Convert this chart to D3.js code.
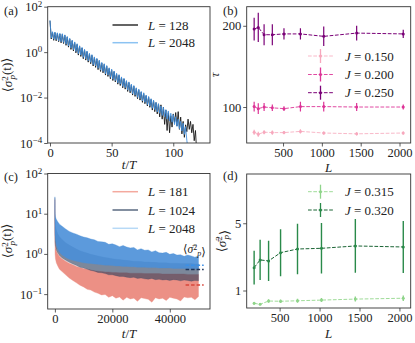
<!DOCTYPE html>
<html><head><meta charset="utf-8">
<script src="https://cdn.jsdelivr.net/npm/d3@7"></script>
<style>
body{margin:0;background:#fff}
text{font-family:"Liberation Serif","DejaVu Serif",serif;fill:#222}
</style></head>
<body><svg id="fig" width="415" height="343"></svg>
<script>
// ---------- DATA ----------
// panel (a): log10 <sigma_p^2(t)> at t/T = 0,1,2,...
const aLog2048 = [1.40, 0.62, 0.90, 0.57, 0.88, 0.55, 0.85, 0.50, 0.83, 0.46, 0.81,
 0.43, 0.76, 0.35, 0.69, 0.27, 0.61, 0.18, 0.53, 0.11, 0.45,
 0.03, 0.37, -0.07, 0.28, -0.13, 0.21, -0.23, 0.12, -0.29, 0.05,
 -0.38, -0.05, -0.45, -0.11, -0.55, -0.21, -0.61, -0.27, -0.71, -0.35,
 -0.79, -0.45, -0.85, -0.51, -0.95, -0.59, -1.01, -0.69, -1.11, -0.75,
 -1.19, -0.83, -1.25, -0.93, -1.35, -0.99, -1.41, -1.09, -1.51, -1.15,
 -1.57, -1.25, -1.67, -1.31, -1.73, -1.41, -1.83, -1.47, -1.89, -1.57,
 -1.99, -1.63, -2.05, -1.73, -2.15, -1.79, -2.21, -1.89, -2.31, -1.95,
 -2.37, -2.05, -2.47, -2.11, -2.53, -2.21, -2.63, -2.27, -2.69, -2.37,
 -2.79, -2.43, -2.85, -2.53, -2.95, -2.59, -3.03, -2.69, -3.09, -2.75,
 -3.19, -2.85, -3.27, -2.95, -3.37, -3.05, -3.47, -3.13, -3.62, -3.28,
 -3.88, -4.3];
const aLog128 = [1.38, 0.58, 0.88, 0.52, 0.86, 0.50, 0.83, 0.46, 0.80, 0.41, 0.78,
 0.38, 0.74, 0.30, 0.66, 0.22, 0.58, 0.12, 0.50, 0.05, 0.42,
 -0.03, 0.34, -0.13, 0.26, -0.19, 0.18, -0.29, 0.10, -0.35, 0.02,
 -0.44, -0.08, -0.51, -0.14, -0.61, -0.24, -0.67, -0.30, -0.77, -0.38,
 -0.85, -0.48, -0.91, -0.54, -1.01, -0.62, -1.07, -0.72, -1.17, -0.78,
 -1.25, -0.86, -1.31, -0.96, -1.41, -1.02, -1.47, -1.12, -1.57, -1.18,
 -1.63, -1.28, -1.73, -1.34, -1.79, -1.44, -1.89, -1.50, -1.95, -1.60,
 -2.05, -1.66, -2.11, -1.76, -2.21, -1.82, -2.27, -1.92, -2.37, -1.98,
 -2.43, -2.08, -2.55, -2.14, -2.62, -2.22, -2.72, -2.28, -2.85, -2.32,
 -2.95, -2.42, -3.18, -2.55, -3.45, -2.66, -3.55, -2.80, -3.30, -2.72,
 -3.10, -2.66, -3.25, -2.62, -3.40, -2.86, -3.60, -3.05, -3.75, -3.20,
 -3.50, -2.95, -3.40, -3.05, -3.55, -3.18, -3.90, -3.45, -4.4];

// panel (b)
const bL = [128, 181, 256, 362, 512, 724, 1024, 1448, 2048];
const tau150 = [69, 66.5, 69, 68.5, 68.5, 70, 68, 67, 68];
const err150 = [3, 3, 2.5, 2.5, 2, 2.5, 2, 2, 2];
const tau200 = [100.5, 98, 100, 99, 98, 100.5, 100.5, 100, 100];
const err200 = [6, 6.5, 5, 4, 3, 6, 6, 5, 3];
const tau250 = [196, 198, 189, 189, 190, 190, 187, 191, 190];
const err250 = [14, 18, 13, 13, 7, 7, 12, 9, 5];

// panel (c): envelopes (log10) of the fluctuating curves
const cTime = [0, 60, 200, 500, 1000, 1600, 2500, 3750, 5000, 6250, 7500, 8750, 10000, 11250, 12500,
 13750, 15000, 16250, 17500, 18750, 20000, 21250, 22500, 23750, 25000, 26250, 27500, 28750, 30000,
 31250, 32500, 33750, 35000, 36250, 37500, 38750, 40000, 41250, 42500, 43750, 45000, 46250, 47500, 48750, 50000];
const c2048Hi = [1.42, 1.0, 0.92, 0.86, 0.80, 0.74, 0.69, 0.62, 0.56, 0.52, 0.49, 0.45, 0.42, 0.40, 0.37,
 0.35, 0.31, 0.30, 0.29, 0.24, 0.25, 0.22, 0.18, 0.21, 0.17, 0.15, 0.16, 0.10, 0.13,
 0.09, 0.10, 0.05, 0.08, 0.03, 0.02, 0.04, -0.01, 0.01, -0.03, -0.02, -0.06, -0.03, -0.05, -0.08, -0.05];
const c2048Lo = [0.9, 0.50, 0.35, 0.22, 0.12, 0.04, -0.03, -0.09, -0.13, -0.16, -0.18, -0.20, -0.22, -0.23, -0.24,
 -0.25, -0.26, -0.27, -0.28, -0.28, -0.29, -0.30, -0.30, -0.31, -0.31, -0.32, -0.32, -0.33, -0.33,
 -0.33, -0.34, -0.34, -0.34, -0.35, -0.35, -0.35, -0.35, -0.36, -0.36, -0.36, -0.36, -0.37, -0.37, -0.37, -0.37];
const c1024Hi = [1.40, 0.85, 0.72, 0.60, 0.50, 0.43, 0.36, 0.28, 0.22, 0.17, 0.12, 0.08, 0.05, 0.02, -0.01,
 -0.03, -0.05, -0.07, -0.09, -0.10, -0.12, -0.13, -0.14, -0.15, -0.16, -0.17, -0.18, -0.18, -0.19,
 -0.20, -0.20, -0.21, -0.21, -0.22, -0.22, -0.22, -0.23, -0.23, -0.23, -0.24, -0.24, -0.24, -0.24, -0.25, -0.25];
const c1024Lo = [0.6, 0.30, 0.20, 0.10, 0.02, -0.04, -0.10, -0.16, -0.21, -0.25, -0.29, -0.33, -0.35, -0.38, -0.41,
 -0.43, -0.46, -0.47, -0.49, -0.52, -0.52, -0.54, -0.56, -0.56, -0.58, -0.59, -0.58, -0.61, -0.60,
 -0.62, -0.63, -0.61, -0.64, -0.63, -0.65, -0.64, -0.66, -0.64, -0.65, -0.67, -0.65, -0.66, -0.68, -0.66, -0.67];
const c181Hi = [1.35, 0.30, 0.18, 0.08, 0.0, -0.06, -0.12, -0.18, -0.23, -0.27, -0.31, -0.34, -0.36, -0.38, -0.40,
 -0.42, -0.43, -0.44, -0.45, -0.45, -0.46, -0.46, -0.47, -0.47, -0.47, -0.48, -0.48, -0.48, -0.48,
 -0.49, -0.49, -0.49, -0.49, -0.49, -0.50, -0.50, -0.50, -0.50, -0.50, -0.50, -0.50, -0.51, -0.51, -0.51, -0.51];
const c181Lo = [0.9, 0.0, -0.12, -0.22, -0.30, -0.38, -0.44, -0.52, -0.60, -0.66, -0.72, -0.78, -0.82, -0.88, -0.90,
 -0.95, -0.98, -1.02, -1.01, -1.08, -1.04, -1.10, -1.07, -1.15, -1.08, -1.12, -1.10, -1.18, -1.09,
 -1.11, -1.13, -1.20, -1.09, -1.12, -1.10, -1.16, -1.08, -1.10, -1.12, -1.17, -1.07, -1.09, -1.08, -1.14, -1.06];
// time-averaged values (log10) marked at the right
const cAvgLog = [{L: 2048, v: -0.28}, {L: 1024, v: -0.39}, {L: 181, v: -0.77}];

// panel (d)
const dL = [181, 256, 362, 512, 724, 1024, 1448, 2048];
const s320 = [2.36, 2.82, 2.76, 3.25, 3.47, 3.51, 3.65, 3.59];
const e320 = [1.0, 1.2, 1.2, 1.4, 1.5, 1.5, 1.6, 1.55];
const s315 = [0.24, 0.18, 0.375, 0.36, 0.39, 0.43, 0.49, 0.54];
const e315 = [0.08, 0.06, 0.1, 0.1, 0.12, 0.12, 0.15, 0.17];

// ---------- DRAWING ----------
const svg = d3.select('#fig');
const FS = 12.5;
const AX = '#333';

function frame(box, id) {
  svg.append('clipPath').attr('id', id).append('rect')
    .attr('x', box.x0).attr('y', box.y0).attr('width', box.x1 - box.x0).attr('height', box.y1 - box.y0);
  return svg.append('g').attr('clip-path', `url(#${id})`);
}
function border(box) {
  svg.append('rect').attr('x', box.x0).attr('y', box.y0).attr('width', box.x1 - box.x0)
    .attr('height', box.y1 - box.y0).attr('fill', 'none').attr('stroke', AX).attr('stroke-width', 0.9);
}
function styleAxis(g) {
  g.select('.domain').remove();
  g.attr('font-family', null).attr('font-size', FS);
  g.selectAll('line').attr('stroke', AX).attr('stroke-width', 0.8);
  g.selectAll('text').attr('fill', '#222');
}
function sci(g) {
  g.selectAll('.tick text').each(function(d) {
    const e = Math.round(Math.log10(d));
    const t = d3.select(this); t.text(null);
    t.append('tspan').text('10');
    t.append('tspan').attr('dy', '-0.5em').attr('font-size', '0.72em').text(e < 0 ? '\u2212' + (-e) : String(e));
  });
}
function xAxis(box, x, ticks) {
  const g = svg.append('g').attr('transform', `translate(0,${box.y1})`)
    .call(d3.axisBottom(x).tickValues(ticks).tickSize(3.5).tickPadding(2).tickFormat(d3.format('d')));
  styleAxis(g);
}
function yAxis(box, y, ticks, log) {
  const g = svg.append('g').attr('transform', `translate(${box.x0},0)`)
    .call(d3.axisLeft(y).tickValues(ticks).tickSize(3.5).tickPadding(2).tickFormat(d3.format('d')));
  styleAxis(g);
  if (log) sci(g);
}
function label(x, y, txt, opts = {}) {
  const t = svg.append('text').attr('x', x).attr('y', y).attr('font-size', opts.size || FS)
    .attr('text-anchor', opts.anchor || 'start');
  if (opts.rotate) t.attr('transform', `rotate(-90,${x},${y})`);
  return t;
}
function sigmaLabel(t, bar, tail, stack = true) {
  t.append('tspan').text('\u27e8');
  t.append('tspan').attr('font-style', 'italic').text(bar ? '\u03c3\u0304' : '\u03c3');
  t.append('tspan').attr('dy', '-0.42em').attr('font-size', '0.7em').text('2');
  t.append('tspan').attr('dx', stack ? '-0.36em' : '0').attr('dy', '0.8em').attr('font-size', '0.7em').attr('font-style', 'italic').text('p');
  t.append('tspan').attr('dy', '-0.38em').text(tail || '');
  t.append('tspan').text('\u27e9');
}
function tOverT(x, y) {
  const t = label(x, y, '', {anchor: 'middle', size: 13});
  t.append('tspan').attr('font-style', 'italic').text('t'); t.append('tspan').text('/');
  t.append('tspan').attr('font-style', 'italic').text('T');
}

// ===== panel (a) =====
const A = {x0: 47.7, x1: 210, y0: 6.7, y1: 143};
const xa = d3.scaleLinear().domain([-1.87, 129.8]).range([A.x0, A.x1]);
const ya = d3.scaleLog().domain([1e-4, 1e2]).range([A.y1, A.y0]);
const ga = frame(A, 'clipA');
const lineA = d3.line().x((d, i) => xa(i)).y(d => ya(Math.pow(10, d)));
ga.append('path').datum(aLog128).attr('d', lineA).attr('fill', 'none').attr('stroke', '#1a1a1a').attr('stroke-width', 1).attr('stroke-opacity', 0.9);
ga.append('path').datum(aLog2048).attr('d', lineA).attr('fill', 'none').attr('stroke', '#3f8fe0').attr('stroke-width', 1).attr('stroke-opacity', 0.85);
border(A);
xAxis(A, xa, [0, 50, 100]);
yAxis(A, ya, [1e-4, 1e-2, 1e0, 1e2], true);
[{c: '#1a1a1a', o: 0.9, t: '128', y: 25}, {c: '#8cc3f2', o: 1, t: '2048', y: 42.7}].forEach(e => {
  svg.append('line').attr('x1', 112.5).attr('x2', 138).attr('y1', e.y).attr('y2', e.y)
    .attr('stroke', e.c).attr('stroke-opacity', e.o).attr('stroke-width', 1.5);
  const t = label(148, e.y + 4.5, '', {size: 13});
  t.append('tspan').attr('font-style', 'italic').text('L');
  t.append('tspan').text(' = ' + e.t);
});
label(4, 14.5, '').text('(a)');
{ const t = label(12, 75, '', {rotate: true, anchor: 'middle', size: 13}); sigmaLabel(t, false, '(t)'); }
tOverT(129, 169);

// ===== panel (b) =====
const B = {x0: 246.7, x1: 410.7, y0: 6.7, y1: 143};
const xb = d3.scaleLinear().domain([32, 2144]).range([B.x0, B.x1]);
const yb = d3.scaleLinear().domain([55.7, 223.5]).range([B.y1, B.y0]);
const gb = frame(B, 'clipB');
const seriesB = [
  {v: tau150, e: err150, c: '#f7a8bd', lc: '#f9b9c9', name: '0.150'},
  {v: tau200, e: err200, c: '#dd3497', lc: '#e04aa2', name: '0.200'},
  {v: tau250, e: err250, c: '#7a0177', lc: '#7a0177', name: '0.250'}
];
function errSeries(g, xs, ys, xv, vals, errs, col, lcol, lw) {
  g.append('path').datum(vals).attr('fill', 'none').attr('stroke', lcol).attr('stroke-width', 1)
    .attr('stroke-dasharray', '3.7,1.6')
    .attr('d', d3.line().x((d, i) => xs(xv[i])).y(d => ys(d)));
  vals.forEach((v, i) => {
    g.append('line').attr('x1', xs(xv[i])).attr('x2', xs(xv[i])).attr('y1', ys(v - errs[i])).attr('y2', ys(v + errs[i]))
      .attr('stroke', col).attr('stroke-width', lw);
    g.append('circle').attr('cx', xs(xv[i])).attr('cy', ys(v)).attr('r', 1.5).attr('fill', col);
  });
}
seriesB.forEach(s => errSeries(gb, xb, yb, bL, s.v, s.e, s.c, s.lc, 1.2));
border(B);
xAxis(B, xb, [500, 1000, 1500, 2000]);
yAxis(B, yb, [100, 200], false);
function errLegend(items, x0, x1, tx, ys) {
  items.forEach((s, k) => {
    const y = ys[k], cx = (x0 + x1) / 2;
    svg.append('line').attr('x1', x0).attr('x2', x1).attr('y1', y).attr('y2', y).attr('stroke', s.lc)
      .attr('stroke-width', 1).attr('stroke-dasharray', '3.7,1.6');
    svg.append('line').attr('x1', cx).attr('x2', cx).attr('y1', y - 7).attr('y2', y + 7).attr('stroke', s.c).attr('stroke-width', 1.3);
    svg.append('circle').attr('cx', cx).attr('cy', y).attr('r', 1.5).attr('fill', s.c);
    const t = label(tx, y + 4.5, '', {size: 13});
    t.append('tspan').attr('font-style', 'italic').text('J');
    t.append('tspan').text(' = ' + s.name);
  });
}
errLegend(seriesB, 308, 333, 345, [56, 74.5, 92.7]);
label(223, 14.5, '').text('(b)');
label(219, 75, '', {rotate: true, anchor: 'middle', size: 13}).attr('font-style', 'italic').text('\u03c4');
label(328.7, 171.5, '', {anchor: 'middle', size: 13}).attr('font-style', 'italic').text('L');

// ===== panel (c) =====
const C = {x0: 47.7, x1: 210, y0: 173.5, y1: 309};
const xc = d3.scaleLinear().domain([-2500, 54000]).range([C.x0, C.x1]);
const yc = d3.scaleLog().domain([Math.pow(10, -1.37), 100]).range([C.y1, C.y0]);
const gc = frame(C, 'clipC');
function band(hi, lo, col, op) {
  const area = d3.area().x((d, i) => xc(cTime[i])).y0((d, i) => yc(Math.pow(10, lo[i]))).y1(d => yc(Math.pow(10, d)));
  gc.append('path').datum(hi).attr('d', area).attr('fill', col).attr('fill-opacity', op)
    .attr('stroke', col).attr('stroke-opacity', op * 0.6).attr('stroke-width', 0.6);
}
band(c181Hi, c181Lo, '#ec9085', 1);
band(c1024Hi, c1024Lo, '#2c3f5e', 0.62);
band(c2048Hi, c2048Lo, '#4a8fd8', 0.9);
const avgCol = {2048: '#3b8fe6', 1024: '#1d3358', 181: '#d8453a'};
svg.append('g').selectAll('line').data(cAvgLog).join('line')
  .attr('x1', xc(45500)).attr('x2', xc(51800))
  .attr('y1', d => yc(Math.pow(10, d.v))).attr('y2', d => yc(Math.pow(10, d.v)))
  .attr('stroke', d => avgCol[d.L]).attr('stroke-width', 1.5).attr('stroke-dasharray', '3.5,2');
border(C);
xAxis(C, xc, [0, 20000, 40000]);
yAxis(C, yc, [0.1, 1, 10, 100], true);
[{c: '#f4a99e', t: '181', y: 191.7}, {c: '#5a6a80', t: '1024', y: 210}, {c: '#b7d9f6', t: '2048', y: 228.3}].forEach(e => {
  svg.append('line').attr('x1', 112.5).attr('x2', 138).attr('y1', e.y).attr('y2', e.y)
    .attr('stroke', e.c).attr('stroke-width', 1.5);
  const t = label(148, e.y + 4.5, '', {size: 13});
  t.append('tspan').attr('font-style', 'italic').text('L');
  t.append('tspan').text(' = ' + e.t);
});
{ const t = label(183, 253, '', {size: 11.5}); sigmaLabel(t, true, '', false); }
label(4, 181, '').text('(c)');
{ const t = label(12, 241, '', {rotate: true, anchor: 'middle', size: 13}); sigmaLabel(t, false, '(t)'); }
tOverT(129, 338);

// ===== panel (d) =====
const D = {x0: 246.7, x1: 410.7, y0: 174, y1: 308};
const xd = d3.scaleLinear().domain([88, 2141]).range([D.x0, D.x1]);
const yd = d3.scaleLinear().domain([-0.04, 7.93]).range([D.y1, D.y0]);
const gd = frame(D, 'clipD');
const seriesD = [
  {v: s315, e: e315, c: '#8fd48a', lc: '#9fdc99', name: '0.315'},
  {v: s320, e: e320, c: '#2a8a4a', lc: '#1b6535', name: '0.320'}
];
seriesD.forEach(s => errSeries(gd, xd, yd, dL, s.v, s.e, s.c, s.lc, 1.4));
border(D);
xAxis(D, xd, [500, 1000, 1500, 2000]);
yAxis(D, yd, [1, 5], false);
errLegend(seriesD, 308, 333, 345, [191.7, 210]);
label(223, 180, '').text('(d)');
{ const t = label(226, 241, '', {rotate: true, anchor: 'middle', size: 13}); sigmaLabel(t, true, ''); }
label(328.7, 338, '', {anchor: 'middle', size: 13}).attr('font-style', 'italic').text('L');
</script></body></html>
